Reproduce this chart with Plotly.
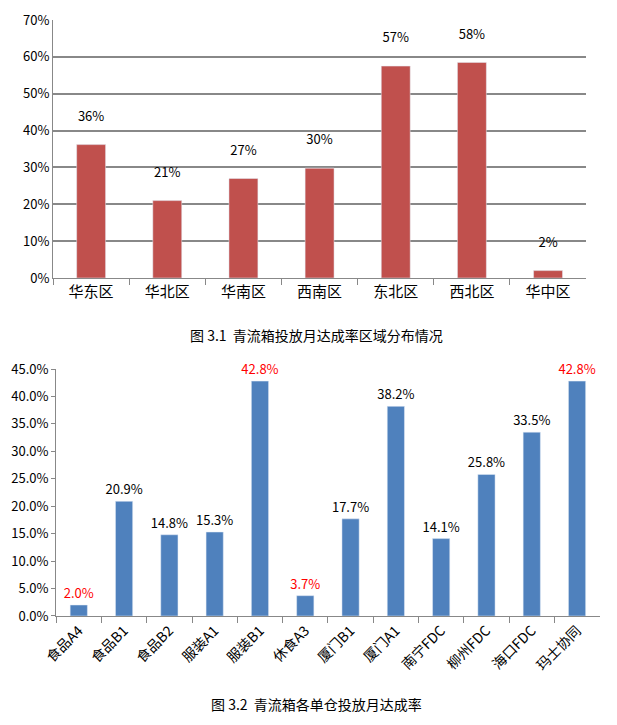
import plotly.graph_objects as go

# Chart 3.1 data
regions = ["华东区", "华北区", "华南区", "西南区", "东北区", "西北区", "华中区"]
region_rate = [0.362, 0.21, 0.27, 0.298, 0.575, 0.585, 0.02]
region_text = ["36%", "21%", "27%", "30%", "57%", "58%", "2%"]

# Chart 3.2 data
warehouses = ["食品A4", "食品B1", "食品B2", "服装A1", "服装B1", "休食A3",
              "厦门B1", "厦门A1", "南宁FDC", "柳州FDC", "海口FDC", "玛士协同"]
wh_rate = [0.020, 0.209, 0.148, 0.153, 0.428, 0.037,
           0.177, 0.382, 0.141, 0.258, 0.335, 0.428]
wh_text_color = ["red", "black", "black", "black", "red", "red",
                 "black", "black", "black", "black", "black", "red"]

font = "Noto Sans CJK SC"
fig = go.Figure()

fig.add_trace(go.Bar(
    x=regions, y=region_rate, marker_color="#C0504D",
    text=[t + "<br> " for t in region_text], textposition="outside", cliponaxis=False,
    constraintext="none",
    textfont=dict(color="black", size=13), xaxis="x", yaxis="y",
))
fig.add_trace(go.Bar(
    x=warehouses, y=wh_rate, marker_color="#4F81BD",
    text=[f"{v*100:.1f}%" for v in wh_rate], textposition="outside", cliponaxis=False,
    constraintext="none",
    textfont=dict(color=wh_text_color, size=13), xaxis="x2", yaxis="y2",
))

fig.update_layout(
    width=617, height=725, margin=dict(l=0, r=0, t=0, b=0),
    paper_bgcolor="white", plot_bgcolor="white", showlegend=False,
    font=dict(family=font, size=13, color="black"),
    bargap=0.62,
    xaxis=dict(domain=[0.073, 0.937], anchor="y", showline=True, linecolor="#888",
               ticks="outside", tickcolor="#888", ticklen=6, tickson="boundaries",
               tickfont=dict(size=15), automargin=False),
    yaxis=dict(domain=[0.6276, 0.9834], anchor="x", range=[0, 0.7], dtick=0.1,
               tickformat=".0%", showgrid=True, gridcolor="#888", gridwidth=1.5,
               showline=True, linecolor="#888", zeroline=False, automargin=False),
    xaxis2=dict(domain=[0.078, 0.959], anchor="y2", showline=True, linecolor="#888",
                ticks="outside", tickcolor="#888", ticklen=6, tickson="boundaries",
                tickangle=-45, tickfont=dict(size=14), automargin=False),
    yaxis2=dict(domain=[0.1614, 0.502], anchor="x2", range=[0, 0.45], dtick=0.05,
                tickformat=".1%", showgrid=False, showline=True, linecolor="#888",
                ticks="outside", tickcolor="#888", ticklen=4, zeroline=False,
                automargin=False),
    annotations=[
        dict(text="图 3.1  青流箱投放月达成率区域分布情况", x=0.5, y=1 - 327 / 725,
             xref="paper", yref="paper", showarrow=False, font=dict(size=14)),
        dict(text="图 3.2  青流箱各单仓投放月达成率", x=0.5, y=1 - 708 / 725,
             xref="paper", yref="paper", showarrow=False, font=dict(size=14)),
    ],
)

fig.write_html("out.html")
